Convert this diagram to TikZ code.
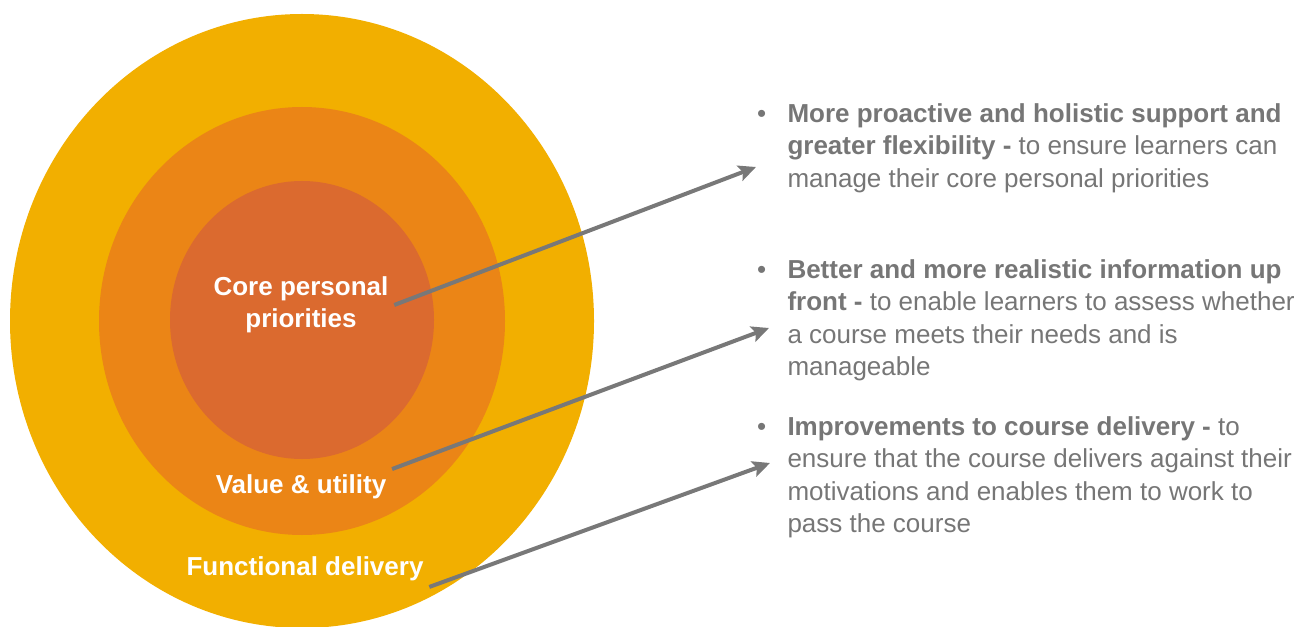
\documentclass[tikz,border=0pt]{standalone}
\usepackage{fontspec}
\setmainfont{Liberation Sans}
\usetikzlibrary{arrows.meta}

\definecolor{outerRing}{RGB}{242,175,0}
\definecolor{midRing}{RGB}{235,133,22}
\definecolor{coreRing}{RGB}{219,106,47}
\definecolor{pointGray}{RGB}{120,120,120}
\definecolor{noteGray}{RGB}{118,118,118}

\tikzset{every picture/.style={line width=0.75pt}}
\tikzset{
  ringLabel/.style={text=white, align=center, inner sep=4pt, font=\bfseries\fontsize{19.5}{24.4}\selectfont},
  noteText/.style={anchor=north west, inner sep=0pt, align=left, text=noteGray, font=\fontsize{19.5}{24.4}\selectfont},
  pointer/.style={draw=pointGray, line width=3pt, -{Stealth[length=13pt,width=12pt,inset=2.5pt]}}
}
\newcommand{\bul}{\llap{\textbullet\hspace{16pt}}}

\begin{document}
\begin{tikzpicture}[x=0.75pt,y=0.75pt,yscale=-1,xscale=1]
\useasboundingbox (0,0) rectangle (1298,627);

%Shape: Ellipse [outer ring]
\draw [draw=none, fill=outerRing] (302,321) ellipse (292 and 307);
%Shape: Ellipse [middle ring]
\draw [draw=none, fill=midRing] (302,321) ellipse (203 and 214);
%Shape: Ellipse [core]
\draw [draw=none, fill=coreRing] (302,320) ellipse (132 and 139);

% Text Node
\node [ringLabel] (core) at (301,305) {Core personal\\priorities};
% Text Node
\node [ringLabel] (value) at (301,487) {Value \& utility};
% Text Node
\node [ringLabel] (func) at (305,569) {Functional delivery};

% Text Node
\node [noteText] (noteA) at (787,103) {\bul\textbf{More proactive and holistic support and}\\\textbf{greater flexibility -} to ensure learners can\\manage their core personal priorities};
% Text Node
\node [noteText] (noteB) at (787,259) {\bul\textbf{Better and more realistic information up}\\\textbf{front -} to enable learners to assess whether\\a course meets their needs and is\\manageable};
% Text Node
\node [noteText] (noteC) at (787,416) {\bul\textbf{Improvements to course delivery -} to\\ensure that the course delivers against their\\motivations and enables them to work to\\pass the course};

%Arrows
\coordinate (tipA) at (756,167);
\coordinate (tipB) at (769,328);
\coordinate (tipC) at (770,463);
\draw [pointer] (core.east) -- (tipA);
\draw [pointer] (value.north east) -- (tipB);
\draw [pointer] (func.south east) -- (tipC);

\end{tikzpicture}
\end{document}
